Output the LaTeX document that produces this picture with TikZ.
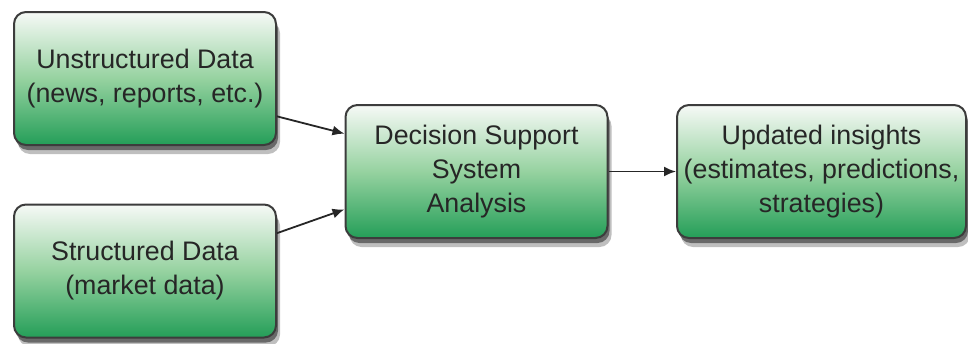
\documentclass[tikz,border=0pt]{standalone}
\usepackage{fontspec}
\setmainfont{Liberation Sans}
\usetikzlibrary{arrows.meta,shadows}
\definecolor{gtop}{RGB}{246,249,246}
\definecolor{gmid}{RGB}{150,210,160}
\definecolor{gbot}{RGB}{36,158,88}
\definecolor{edge}{RGB}{60,60,60}
\tikzset{
  box/.style={draw=edge,line width=1pt,rounded corners=6pt,align=center,
    font=\fontsize{13.4}{17}\selectfont,text=black!85,
    minimum width=131pt,minimum height=66.5pt,inner sep=2pt,
    top color=gtop,bottom color=gbot,middle color=gmid,
    % soft double shadow under each box
    general shadow={shadow xshift=2pt,shadow yshift=-4.5pt,opacity=0.25,fill=black},
    general shadow={shadow xshift=1pt,shadow yshift=-2.5pt,opacity=0.45,fill=black}},
  arr/.style={-{Latex[length=6pt,width=5pt]},line width=0.9pt,draw=black!85}
}
\begin{document}
\begin{tikzpicture}[x=0.5pt,y=-0.5pt]
\useasboundingbox (0,0) rectangle (968,343);
\node[box] (unstr) at (145,78.5) {Unstructured Data\\(news, reports, etc.)};
\node[box] (struc) at (145,271) {Structured Data\\(market data)};
\node[box] (dss) at (476.5,171.5) {Decision Support\\System\\Analysis};
\node[box,minimum width=144.5pt] (ins) at (821.5,171.5) {Updated insights\\(estimates, predictions,\\strategies)};
\draw[arr] (unstr.-16) -- (dss.164);
\draw[arr] (struc.16) -- (dss.-164);
\draw[arr] (dss.east) -- (ins.west);
\end{tikzpicture}
\end{document}
